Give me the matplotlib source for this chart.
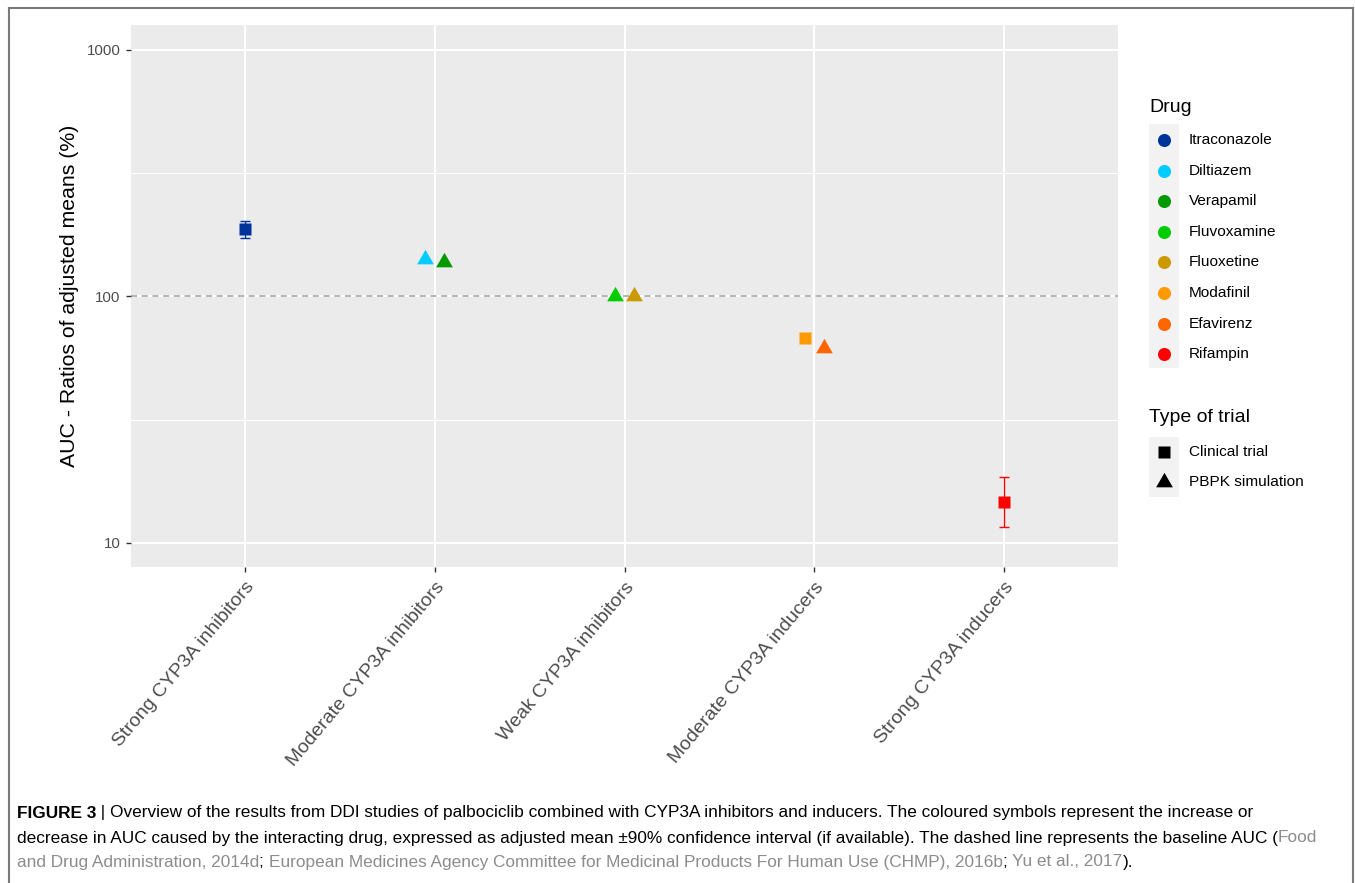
import matplotlib
matplotlib.use("Agg")
import matplotlib.pyplot as plt
from matplotlib.lines import Line2D
from matplotlib.patches import Rectangle
from matplotlib.path import Path
import numpy as np

plt.rcParams['font.family'] = ['Liberation Sans', 'DejaVu Sans']

# ---------------- data ----------------
categories = ["Strong CYP3A inhibitors", "Moderate CYP3A inhibitors", "Weak CYP3A inhibitors",
              "Moderate CYP3A inducers", "Strong CYP3A inducers"]
drugs = ["Itraconazole", "Diltiazem", "Verapamil", "Fluvoxamine", "Fluoxetine",
         "Modafinil", "Efavirenz", "Rifampin"]
drug_category = [0, 1, 1, 2, 2, 3, 3, 4]
drug_dodge = [0.0, -0.05, 0.05, -0.05, 0.05, -0.05, 0.05, 0.0]
trial_type = ["Clinical trial", "PBPK simulation", "PBPK simulation", "PBPK simulation",
              "PBPK simulation", "Clinical trial", "PBPK simulation", "Clinical trial"]
auc_ratio = [187, 142, 138, 100, 100, 68, 62, 14.7]
ci_low = [172, None, None, None, None, None, None, 11.6]
ci_high = [202, None, None, None, None, None, None, 18.6]
drug_colors = ["#003399", "#00CCFF", "#009900", "#00CC00", "#CC9900", "#FF9900", "#FF6600", "#FF0000"]
trial_types = ["Clinical trial", "PBPK simulation"]
y_ticks = [10, 100, 1000]
baseline = 100

# ---------------- figure ----------------
W, H = 1355, 883
fig = plt.figure(figsize=(W / 100, H / 100), dpi=100)

def fx(px):
    return px / W

def fy(py):
    return 1 - py / H

ax = fig.add_axes([fx(131), fy(567), fx(1118) - fx(131), fy(25) - fy(567)])
ax.set_facecolor("#EBEBEB")
for s in ax.spines.values():
    s.set_visible(False)

ax.set_yscale("log")
ax.set_ylim(7.99, 1263)
ax.set_xlim(0.4, 5.6)

# grid
for yt in y_ticks:
    ax.axhline(yt, color="white", lw=1.5, zorder=0)
for ym in [31.62, 316.2]:
    ax.axhline(ym, color="white", lw=0.75, zorder=0)
for i in range(len(categories)):
    ax.axvline(i + 1, color="white", lw=1.5, zorder=0)

ax.axhline(baseline, color="#A0A0A0", lw=1.1, ls=(0, (4, 3)), zorder=1)

# equilateral triangle marker (centroid-centred, like R pch 17)
tri = Path([(0, 0.577), (-0.5, -0.2887), (0.5, -0.2887), (0, 0.577)],
           [Path.MOVETO, Path.LINETO, Path.LINETO, Path.CLOSEPOLY])
markers = {"Clinical trial": "s", "PBPK simulation": tri}
msizes = {"Clinical trial": 9.2, "PBPK simulation": 13.9}

for i, d in enumerate(drugs):
    x = drug_category[i] + 1 + drug_dodge[i]
    y = auc_ratio[i]
    if ci_low[i] is not None:
        ax.errorbar([x], [y], yerr=[[y - ci_low[i]], [ci_high[i] - y]], fmt="none",
                    ecolor=drug_colors[i], elinewidth=1.0, capsize=3.8, capthick=1.0, zorder=3)
    ax.plot([x], [y], marker=markers[trial_type[i]], ms=msizes[trial_type[i]],
            color=drug_colors[i], mec="none", ls="none", zorder=4)

ax.set_yticks(y_ticks)
ax.set_yticklabels([str(v) for v in y_ticks])
ax.yaxis.set_minor_locator(matplotlib.ticker.NullLocator())
ax.set_xticks(range(1, len(categories) + 1))
ax.set_xticklabels(categories, rotation=50, ha="right", va="top", rotation_mode="anchor")
ax.tick_params(axis="both", colors="#333333", length=3.5, width=1.0, labelcolor="#4D4D4D")
ax.tick_params(axis="y", labelsize=10.8, pad=4)
ax.tick_params(axis="x", labelsize=14, pad=5)
ax.set_ylabel("AUC - Ratios of adjusted means (%)", fontsize=15.3, color="black")
ax.yaxis.set_label_coords((79 - 131) / 987, 0.5)

# ---------------- legend (manual, ggplot style) ----------------
LX, KX0, KX1, TX = 1149, 1149, 1179, 1189
fig.text(fx(LX), fy(108), "Drug", fontsize=14, va="center", ha="left")
drug_y0, step = 140, 30.6
fig.patches.append(Rectangle((fx(KX0), fy(drug_y0 + step * 7 + 14)), fx(KX1) - fx(KX0),
                             fy(drug_y0 - 16) - fy(drug_y0 + step * 7 + 14),
                             transform=fig.transFigure, facecolor="#F2F2F2", edgecolor="none"))
for i, d in enumerate(drugs):
    yy = drug_y0 + step * i
    fig.lines.append(Line2D([fx((KX0 + KX1) / 2)], [fy(yy)], marker="o", ms=9.4, color=drug_colors[i],
                            mec="none", transform=fig.transFigure))
    fig.text(fx(TX), fy(yy), d, fontsize=11.1, va="center", ha="left")

fig.text(fx(LX), fy(418), "Type of trial", fontsize=14, va="center", ha="left")
type_y0, tstep = 451.5, 30
fig.patches.append(Rectangle((fx(KX0), fy(type_y0 + tstep + 15)), fx(KX1) - fx(KX0),
                             fy(type_y0 - 15) - fy(type_y0 + tstep + 15),
                             transform=fig.transFigure, facecolor="#F2F2F2", edgecolor="none"))
for i, t in enumerate(trial_types):
    yy = type_y0 + tstep * i
    fig.lines.append(Line2D([fx((KX0 + KX1) / 2)], [fy(yy)], marker=markers[t], ms=msizes[t],
                            color="black", mec="none", transform=fig.transFigure))
    fig.text(fx(TX), fy(yy), t, fontsize=11.1, va="center", ha="left")

# ---------------- frame ----------------
for (x0, y0, x1, y1) in [(9, 8, 9, 883), (9, 8, 1353, 8), (1353, 8, 1353, 883)]:
    fig.lines.append(Line2D([fx(x0), fx(x1)], [fy(y0), fy(y1)], color="#7A7A7A", lw=1.5,
                            transform=fig.transFigure))

# ---------------- caption with mixed styles ----------------
GRAY = "#8C8C8C"
cap_lines = [
    [("FIGURE 3", "black", "bold"), (" | ", "black", "normal"),
     ("Overview of the results from DDI studies of palbociclib combined with CYP3A inhibitors and inducers. "
      "The coloured symbols represent the increase or", "black", "normal")],
    [("decrease in AUC caused by the interacting drug, expressed as adjusted mean \u00b190% confidence interval "
      "(if available). The dashed line represents the baseline AUC (", "black", "normal"),
     ("Food", GRAY, "normal")],
    [("and Drug Administration, 2014d", GRAY, "normal"), ("; ", "black", "normal"),
     ("European Medicines Agency Committee for Medicinal Products For Human Use (CHMP), 2016b", GRAY, "normal"),
     ("; ", "black", "normal"), ("Yu et al., 2017", GRAY, "normal"), (").", "black", "normal")],
]
cap_y = [813, 838, 862]
cap_x0 = 17.0
cap_x_end_line2 = 1322.0

renderer = fig.canvas.get_renderer()

def text_width(s, weight, fs):
    t = fig.text(0, 0, s + "|", fontsize=fs, fontweight=weight)
    w1 = t.get_window_extent(renderer).width
    t.remove()
    t = fig.text(0, 0, "|", fontsize=fs, fontweight=weight)
    w2 = t.get_window_extent(renderer).width
    t.remove()
    return w1 - w2

# fit font size so that line 2 spans the same width as in the reference
base_fs = 12.0
w_line2 = sum(text_width(s, wt, base_fs) for s, c, wt in cap_lines[1])
cap_fs = base_fs * (cap_x_end_line2 - cap_x0) / w_line2

for line, yy in zip(cap_lines, cap_y):
    xpx = cap_x0
    for s, c, wt in line:
        fig.text(fx(xpx), fy(yy), s, fontsize=cap_fs, color=c, fontweight=wt, va="center", ha="left")
        xpx += text_width(s, wt, cap_fs)

fig.savefig("out.png", dpi=100)
